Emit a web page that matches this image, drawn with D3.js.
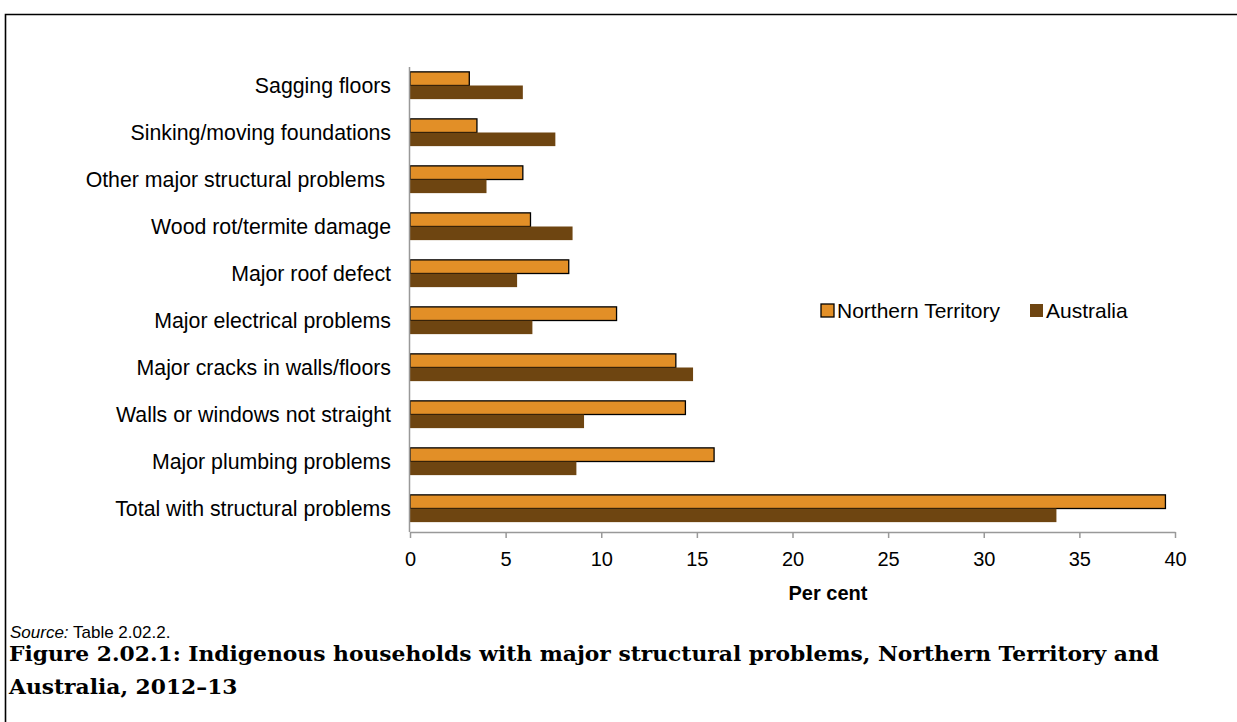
<!DOCTYPE html>
<html><head><meta charset="utf-8">
<script src="https://cdn.jsdelivr.net/npm/d3@7"></script>
<style>body{margin:0;background:#fff}svg{display:block}text{font-family:"Liberation Sans",Arial,sans-serif}</style>
</head><body>
<svg id="c" width="1237" height="722"></svg>
<script>
const categories = ["Sagging floors","Sinking/moving foundations","Other major structural problems ","Wood rot/termite damage","Major roof defect","Major electrical problems","Major cracks in walls/floors","Walls or windows not straight","Major plumbing problems","Total with structural problems"];
const seriesNames = ["Northern Territory","Australia"];
const ntValues = [3.1,3.5,5.9,6.3,8.3,10.8,13.9,14.4,15.9,39.5];
const ausValues = [5.9,7.6,4.0,8.5,5.6,6.4,14.8,9.1,8.7,33.8];
const xTicks = [0,5,10,15,20,25,30,35,40];
const colors = ["#E28F27","#6E4511"];

const svg = d3.select("#c");
// frame
svg.append("path").attr("d","M5.5,722 V14.5 H1240").attr("fill","none").attr("stroke","#000").attr("stroke-width",1.6);

const x = d3.scaleLinear().domain([0,40]).range([410,1175]);
const y = d3.scaleBand().domain(categories).range([62,532]).paddingInner(0.42).paddingOuter(0.21);
const sub = d3.scaleBand().domain(seriesNames).range([0,y.bandwidth()]);

const g = svg.append("g");
categories.forEach((c,i)=>{
  const vals=[ntValues[i],ausValues[i]];
  vals.forEach((v,j)=>{
    g.append("rect").attr("x",x(0)).attr("y",y(c)+sub(seriesNames[j]))
      .attr("width",x(v)-x(0)).attr("height",sub.bandwidth())
      .attr("fill",colors[j])
      .attr("stroke",j===0?"#000":"none").attr("stroke-width",1.3);
  });
});

// y axis line
svg.append("line").attr("x1",409.5).attr("x2",409.5).attr("y1",67).attr("y2",532).attr("stroke","#999").attr("stroke-width",1.5);
// y labels
categories.forEach(c=>{
  svg.append("text").attr("x",391).attr("y",y(c)+y.bandwidth()/2).attr("dy","0.35em")
    .attr("text-anchor","end").attr("font-size",21.3).attr("fill","#000").style("white-space","pre").text(c);
});
// x axis
const xa = svg.append("g").attr("transform","translate(0,532)")
  .call(d3.axisBottom(x).tickValues(xTicks).tickSize(6).tickPadding(0).tickSizeOuter(0));
xa.select(".domain").attr("stroke","#999").attr("stroke-width",1.5);
xa.selectAll(".tick line").attr("stroke","#999").attr("stroke-width",1.5);
xa.selectAll(".tick text").attr("font-size",20).attr("fill","#000").attr("y",34).attr("dy",null)
  .style("font-family","Liberation Sans, Arial, sans-serif");
svg.append("text").attr("x",828).attr("y",600).attr("text-anchor","middle").attr("font-size",20).attr("font-weight","bold").text("Per cent");

// legend
const lg = [[821,837],[1030,1046]];
seriesNames.forEach((s,j)=>{
  svg.append("rect").attr("x",lg[j][0]).attr("y",304).attr("width",13).attr("height",13)
    .attr("fill",colors[j]).attr("stroke",j===0?"#000":"none").attr("stroke-width",1.3);
  svg.append("text").attr("x",lg[j][1]).attr("y",317.5).attr("font-size",21).text(s);
});

// source
const src = svg.append("text").attr("x",10).attr("y",638).attr("font-size",17);
src.append("tspan").style("font-style","italic").text("Source:");
src.append("tspan").text(" Table 2.02.2.");

// title
const t1 = ["Figure 2.02.1: Indigenous households with major structural problems, Northern Territory and","Australia, 2012–13"];
const tt = t1.map((t,i)=> svg.append("text").attr("x",9).attr("y",661+i*33).attr("font-size",21).attr("font-weight","bold")
    .style("font-family","'DejaVu Serif','Liberation Serif',serif").text(t));
const k = 1150/tt[0].node().getComputedTextLength();
tt.forEach(t=>{
  const w = t.node().getComputedTextLength();
  t.attr("textLength",w*k).attr("lengthAdjust","spacingAndGlyphs");
});
</script>
</body></html>
